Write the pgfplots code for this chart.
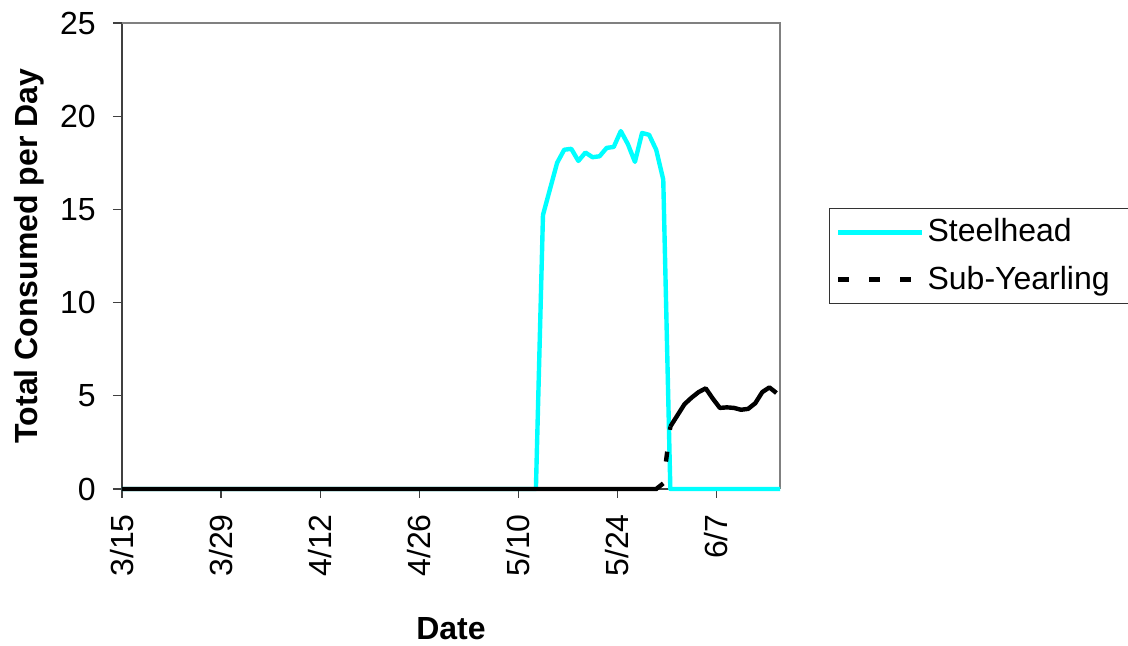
\documentclass[border=0pt]{standalone}
\usepackage{fontspec}
\setmainfont{Liberation Sans}
\usepackage{pgfplots}
\pgfplotsset{compat=1.18}
\definecolor{steel}{RGB}{0,255,255}
\definecolor{axgray}{RGB}{128,128,128}
\begin{document}
\begin{tikzpicture}
\useasboundingbox (-61pt,-78.5pt) rectangle (503pt,244.5pt);
\begin{axis}[
  at={(0,0)}, anchor=south west,
  scale only axis, width=329pt, height=233pt,
  xmin=0, xmax=93, ymin=0, ymax=25,
  axis lines*=left,
  axis line style={black!75, line width=0.7pt},
  tick align=outside,
  major tick length=4.5pt,
  tick style={black!75, line width=0.6pt},
  xtick={0,14,28,42,56,70,84},
  xticklabels={3/15,3/29,4/12,4/26,5/10,5/24,6/7},
  ytick={0,5,10,15,20,25},
  font=\fontsize{16}{19}\selectfont,
  /pgf/number format/assume math mode=true,
  xticklabel style={rotate=90, anchor=east, inner sep=0pt},
  yticklabel style={anchor=east, inner sep=0pt},
  xticklabel shift=8pt,
  yticklabel shift=8.5pt,
  xlabel={\textbf{Date}},
  ylabel={\textbf{Total Consumed per Day}},
  xlabel style={at={(axis description cs:0.5,-0.2994)}, anchor=center},
  ylabel style={at={(axis description cs:-0.1416,0.5)}, anchor=center},
  clip=false,
  legend cell align=left,
  legend style={at={(axis description cs:1,0.5)}, anchor=west, xshift=24.5pt,
    draw=black!80, line width=0.6pt, inner xsep=3pt, inner ysep=3pt,
    row sep=6pt,
    nodes={inner xsep=1.5pt, inner ysep=2pt, text depth=0.2em},
    font=\fontsize{16}{19}\selectfont},
  legend image code/.code={\draw[#1] (0pt,0pt) -- (42pt,0pt);},
]
\draw[axgray, line width=0.7pt] (rel axis cs:0,1) -- (rel axis cs:1,1) -- (rel axis cs:1,0);
\addplot[steel, line width=2.2pt, line join=round] coordinates {
 (0,0) (58.5,0) (59.5,14.7) (60.5,16.1) (61.5,17.5) (62.5,18.2) (63.5,18.25)
 (64.5,17.6) (65.5,18.05) (66.5,17.8) (67.5,17.85) (68.5,18.3) (69.5,18.35)
 (70.5,19.2) (71.5,18.5) (72.5,17.55) (73.5,19.1) (74.5,19.0) (75.5,18.2)
 (76.5,16.6) (77.5,0) (93,0)
};
\addlegendentry{Steelhead}
\addplot[black, line width=2.2pt, forget plot] coordinates {
 (0,0) (75.5,0) (76.5,0.3)
};
\addplot[black, line width=2.2pt, forget plot, line join=round] coordinates {
 (77.5,3.35) (78.5,3.95) (79.5,4.55) (80.5,4.9) (81.5,5.2) (82.5,5.4)
 (83.5,4.85) (84.5,4.35) (85.5,4.38) (86.5,4.35) (87.5,4.25) (88.5,4.3)
 (89.5,4.6) (90.5,5.2) (91.5,5.45) (92.5,5.15)
};
\addplot[black, line width=2.2pt, dash pattern=on 5pt off 11pt, dash phase=5pt,
  legend image code/.code={\draw[black, line width=2.8pt, solid]
     (0pt,0pt) -- (5.5pt,0pt) (15.5pt,0pt) -- (21pt,0pt) (31pt,0pt) -- (36.5pt,0pt);}]
 coordinates {(76.5,0.3) (77.5,3.35)};
\addlegendentry{Sub-Yearling\rule{7pt}{0pt}}
\end{axis}
\end{tikzpicture}
\end{document}
